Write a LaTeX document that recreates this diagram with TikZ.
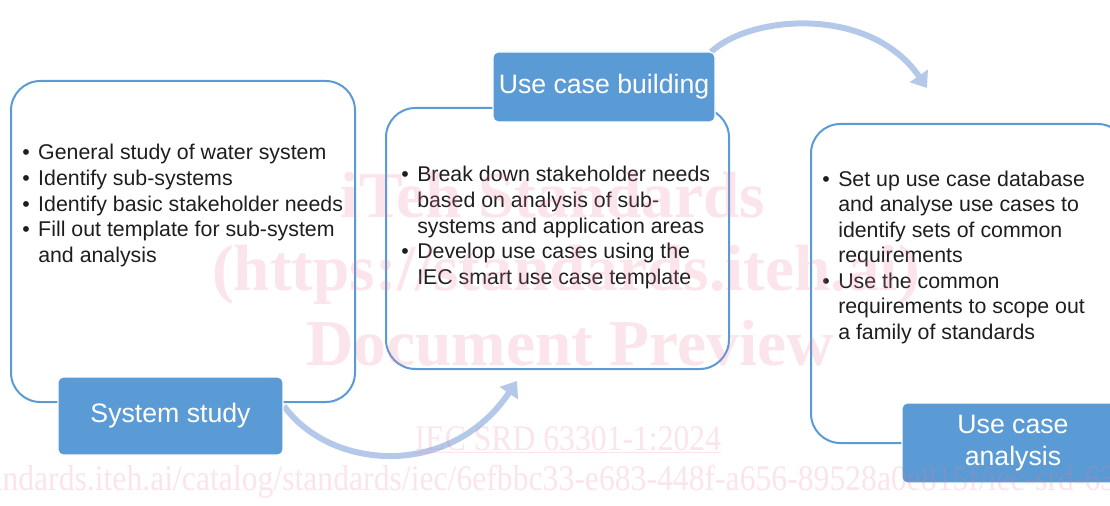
\documentclass[tikz,border=0pt]{standalone}
\usepackage{fontspec}
\usepackage{graphicx}
\setmainfont{Liberation Sans}
\newfontfamily\wmfont{Liberation Serif}
\usetikzlibrary{arrows.meta}
\definecolor{boxblue}{RGB}{91,155,213}
\definecolor{arrowblue}{RGB}{180,201,233}
\definecolor{txt}{RGB}{30,30,30}
\definecolor{wmpink}{RGB}{235,120,150}
\tikzset{
 panel/.style={draw=boxblue, line width=1.5pt, fill=white, rounded corners=22pt, inner sep=0pt},
 titlebox/.style={fill=boxblue, draw=white, line width=0.8pt, rounded corners=4pt, text=white,
   font=\fontsize{20}{24}\selectfont, align=center, inner sep=0pt},
 bullets/.style={anchor=base west, inner sep=0pt, text=txt, font=\fontsize{16}{19.2}\selectfont},
 flow/.style={arrowblue, line width=4.5pt, -{Triangle[length=11pt,width=16pt]}},
 wm/.style={text=wmpink, text opacity=0.2, inner sep=0pt},
 wmbig/.style={wm, font=\wmfont\bfseries\fontsize{49}{50}\selectfont, anchor=base},
 wmsmall/.style={wm, font=\wmfont\fontsize{27}{30}\selectfont}
}
\newcommand\bl{\llap{\makebox[12pt][l]{•}}}
\begin{document}
\begin{tikzpicture}[x=0.75pt,y=-0.75pt]
\path[use as bounding box, clip] (0,0) rectangle (1110,506);
% panels
\node[panel, minimum width=258pt, minimum height=240.75pt] (p1) at (183,241.5) {};
\node[panel, minimum width=257.25pt, minimum height=195.75pt] (p2) at (557.5,238.5) {};
\node[panel, minimum width=237pt, minimum height=239.25pt] (p3) at (969,283.5) {};
% bullet texts
\node[bullets] (t1) at (38,160) {\begin{tabular}[t]{@{}l@{}}
\bl General study of water system\\
\bl Identify sub-systems\\
\bl Identify basic stakeholder needs\\
\bl Fill out template for sub-system\\
and analysis\end{tabular}};
\node[bullets] (t2) at (417,182) {\begin{tabular}[t]{@{}l@{}}
\bl Break down stakeholder needs\\
based on analysis of sub-\\
systems and application areas\\
\bl Develop use cases using the\\
IEC smart use case template\end{tabular}};
\node[bullets] (t3) at (838,186) {\begin{tabular}[t]{@{}l@{}}
\bl Set up use case database\\
and analyse use cases to\\
identify sets of common\\
requirements\\
\bl Use the common\\
requirements to scope out\\
a family of standards\end{tabular}};
% arrows
\coordinate (a1s) at (284,406);
\coordinate (a1e) at (517,381);
\coordinate (a2s) at (711,52);
\coordinate (a2e) at (927,88);
\draw[flow] (a1s) .. controls (330,470) and (450,480) .. (a1e);
\draw[flow] (a2s) .. controls (750,15) and (870,5) .. (a2e);
% title boxes
\node[titlebox, minimum width=168.75pt, minimum height=58.5pt] (ss) at (170.5,416) {System study};
\node[titlebox, minimum width=166.5pt, minimum height=52.5pt] (ucb) at (604,87) {Use case building};
\node[titlebox, minimum width=166.5pt, minimum height=60pt] (uca) at (1013,443) {Use case\\analysis};
% watermark
\node[wmbig] (w1) at (553,218) {iTeh Standards};
\node[wmbig] (w2) at (566,290) {(https://standards.iteh.ai)};
\node[wmbig] (w3) at (570,365) {Document Preview};
\node[wmsmall, anchor=base] (w4) at (568,450) {\scalebox{0.88}[1]{\underline{IEC SRD 63301-1:2024}}};
\node[wmsmall, anchor=base west] (w5) at (-121,490) {\scalebox{0.88}[1]{https://standards.iteh.ai/catalog/standards/iec/6efbbc33-e683-448f-a656-89528a0e815f/iec-srd-63301-1-2024}};
\end{tikzpicture}
\end{document}
